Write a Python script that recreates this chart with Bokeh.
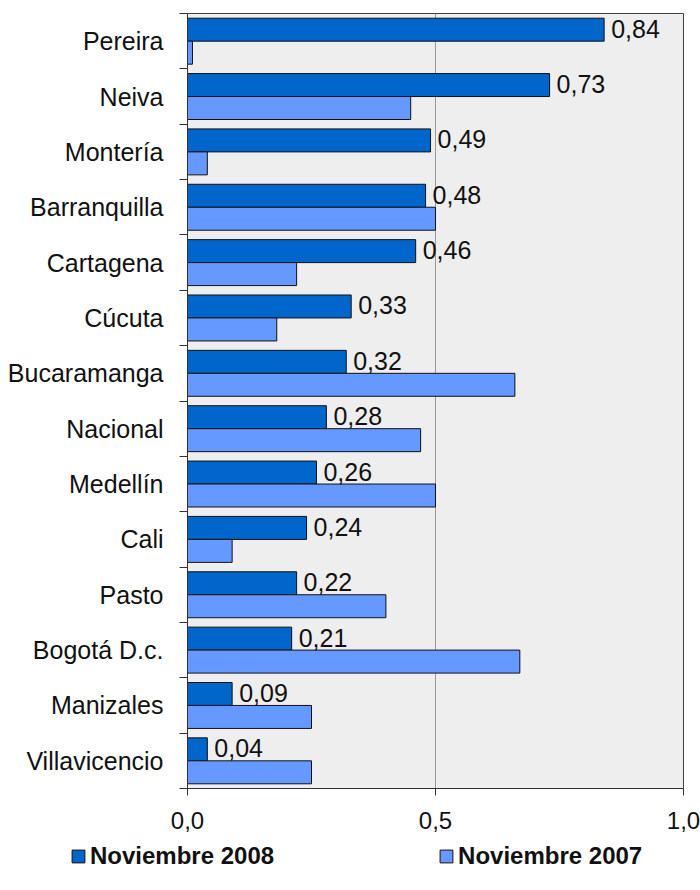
from bokeh.plotting import figure
from bokeh.models import Range1d, FixedTicker, Legend, LegendItem, ColumnDataSource
from bokeh.embed import file_html
from bokeh.resources import INLINE
from bokeh.core.properties import value

cities = ["Pereira", "Neiva", "Montería", "Barranquilla", "Cartagena", "Cúcuta",
          "Bucaramanga", "Nacional", "Medellín", "Cali", "Pasto", "Bogotá D.c.",
          "Manizales", "Villavicencio"]
nov_2008 = [0.84, 0.73, 0.49, 0.48, 0.46, 0.33, 0.32, 0.28, 0.26, 0.24, 0.22, 0.21, 0.09, 0.04]
nov_2007 = [0.01, 0.45, 0.04, 0.50, 0.22, 0.18, 0.66, 0.47, 0.50, 0.09, 0.40, 0.67, 0.25, 0.25]
x_ticks = [0.0, 0.5, 1.0]
x_tick_labels = ["0,0", "0,5", "1,0"]
series_names = ["Noviembre 2008", "Noviembre 2007"]

DARK = "#0066CC"
LIGHT = "#6699FF"
FONT = "Liberation Sans"
TXT = "#111111"

n = len(cities)
centers = [i + 0.5 for i in range(n)]
bar_h = 0.415
off = bar_h / 2

p = figure(width=700, height=838, output_backend="svg", toolbar_location=None,
           x_range=Range1d(0, 1), y_range=Range1d(n, 0),
           min_border_left=187, min_border_right=17, min_border_top=13, min_border_bottom=50)
p.background_fill_color = "#EEEEEE"
p.border_fill_color = "white"
p.outline_line_color = "#404040"
p.outline_line_width = 1

src = ColumnDataSource(dict(
    y08=[c - off for c in centers], y07=[c + off for c in centers],
    v08=nov_2008, v07=nov_2007,
    lab=[f"{v:.2f}".replace(".", ",") for v in nov_2008],
))

p.hbar(y="y08", left=0, right="v08", height=bar_h, source=src,
       fill_color=DARK, line_color="#111111", line_width=1)
p.hbar(y="y07", left=0, right="v07", height=bar_h, source=src,
       fill_color=LIGHT, line_color="#111111", line_width=1)

p.text(x="v08", y="y08", text="lab", source=src, x_offset=7, y_offset=-1,
       text_font=value(FONT), text_font_size="25px", text_color=TXT,
       text_align="left", text_baseline="middle")

# y axis
p.yaxis.ticker = FixedTicker(ticks=centers, minor_ticks=list(range(n + 1)))
p.yaxis.major_label_overrides = {c: name for c, name in zip(centers, cities)}
p.yaxis.major_tick_out = 0
p.yaxis.major_tick_in = 0
p.yaxis.minor_tick_out = 8
p.yaxis.minor_tick_in = 0
p.yaxis.minor_tick_line_color = "#333333"
p.yaxis.axis_line_color = "#333333"
p.yaxis.major_label_standoff = 16
p.yaxis.major_label_text_font = FONT
p.yaxis.major_label_text_font_size = "25px"
p.yaxis.major_label_text_color = TXT

# x axis
p.xaxis.ticker = FixedTicker(ticks=x_ticks, minor_ticks=[])
p.xaxis.major_label_overrides = {t: l for t, l in zip(x_ticks, x_tick_labels)}
p.xaxis.major_tick_out = 7
p.xaxis.major_tick_in = 0
p.xaxis.major_tick_line_color = "#333333"
p.xaxis.axis_line_color = "#333333"
p.xaxis.major_label_standoff = 16
p.xaxis.major_label_text_font = FONT
p.xaxis.major_label_text_font_size = "24px"
p.xaxis.major_label_text_color = TXT

p.ygrid.visible = False
p.xgrid.ticker = FixedTicker(ticks=[0.5], minor_ticks=[])
p.xgrid.grid_line_color = "#999999"
p.xgrid.grid_line_width = 1

# legend strip (separate root below the chart)
p2 = figure(width=700, height=52, output_backend="svg", toolbar_location=None,
            x_range=Range1d(0, 1), y_range=Range1d(0, 1),
            x_axis_location=None, y_axis_location=None, min_border=0)
p2.grid.visible = False
p2.outline_line_color = None
p2.background_fill_color = "white"
e08 = p2.hbar(y=[0], left=[0], right=[0], height=0.1, fill_color=DARK,
              line_color="#111111", line_width=1, visible=False)
e07 = p2.hbar(y=[0], left=[0], right=[0], height=0.1, fill_color=LIGHT,
              line_color="#111111", line_width=1, visible=False)

legend = Legend(items=[LegendItem(label=series_names[0], renderers=[e08]),
                       LegendItem(label=series_names[1], renderers=[e07])],
                orientation="horizontal", location=(70, 20),
                glyph_width=16, glyph_height=16, label_standoff=4, spacing=164,
                padding=0, margin=0, border_line_color=None, background_fill_alpha=0,
                label_text_font=FONT, label_text_font_size="24px",
                label_text_font_style="bold", label_text_color=TXT,
                label_height=16)
p2.add_layout(legend, "center")

open("out.html", "w").write(file_html([p, p2], INLINE))
